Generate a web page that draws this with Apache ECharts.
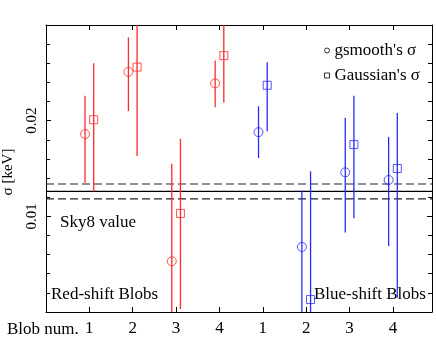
<!DOCTYPE html>
<html>
<head>
<meta charset="utf-8">
<script src="https://cdn.jsdelivr.net/npm/echarts@6/dist/echarts.min.js"></script>
<style>
  html, body { margin: 0; padding: 0; background: #fff; }
  #chart { width: 436px; height: 337px; }
</style>
</head>
<body>
<div id="chart"></div>
<script>
// blob labels along the bottom axis
const blobLabels = ["1", "2", "3", "4", "1", "2", "3", "4"];

// red-shift blobs: gsmooth (circle) and Gaussian (square) sigma, keV
const redGsmooth = [0.0186, 0.0251, 0.0053, 0.0239];
const redGsmoothLow = [0.0135, 0.0210, -0.0050, 0.0214];
const redGsmoothHigh = [0.0226, 0.0287, 0.0155, 0.0263];
const redGauss = [0.0201, 0.0256, 0.0103, 0.0268];
const redGaussLow = [0.0126, 0.0163, 0.0003, 0.0219];
const redGaussHigh = [0.0260, 0.0350, 0.0181, 0.0320];

// blue-shift blobs
const blueGsmooth = [0.0188, 0.0068, 0.0146, 0.0138];
const blueGsmoothLow = [0.0161, -0.0010, 0.0083, 0.0069];
const blueGsmoothHigh = [0.0215, 0.0127, 0.0203, 0.0183];
const blueGauss = [0.0237, 0.0013, 0.0175, 0.0150];
const blueGaussLow = [0.0189, -0.0120, 0.0098, 0.0015];
const blueGaussHigh = [0.0261, 0.0147, 0.0226, 0.0208];

// Sky8 reference value and its range
const skyValue = 0.0126;
const skyErr = 0.00078;

const RED = "#ff2a2a";
const BLUE = "#2a2aff";
const FONT = "Liberation Serif";
const XMAX = 8.9;
const SHIFT = 0.1;

// x position of blob i (0..3) in group g (0 red, 1 blue)
function xPos(g, i, side) {
  return g * 4 + i + 1 + side * SHIFT;
}

function points(g, vals, side) {
  return vals.map((v, i) => [xPos(g, i, side), v]);
}
function bars(g, lo, hi, side) {
  return lo.map((l, i) => [xPos(g, i, side), l, hi[i]]);
}

function errSeries(data, color) {
  return {
    type: "custom",
    clip: true,
    silent: true,
    encode: { x: 0, y: [1, 2] },
    data: data,
    renderItem: function (params, api) {
      const a = api.coord([api.value(0), api.value(1)]);
      const b = api.coord([api.value(0), api.value(2)]);
      return {
        type: "line",
        shape: { x1: a[0], y1: a[1], x2: b[0], y2: b[1] },
        style: { stroke: color, lineWidth: 1.3 }
      };
    },
    z: 2
  };
}

function markSeries(name, data, symbol, color) {
  return {
    name: name,
    type: "scatter",
    symbol: symbol,
    symbolSize: symbol === "circle" ? 9 : 8,
    data: data,
    itemStyle: { color: "transparent", borderColor: color, borderWidth: 1 },
    z: 3
  };
}

function hLine(v, dashed) {
  return {
    type: "line",
    data: [[0, v], [XMAX, v]],
    symbol: "none",
    silent: true,
    lineStyle: { color: dashed ? "#222" : "#000", width: 1.2, type: dashed ? [8, 4] : "solid" },
    z: 1
  };
}

const chart = echarts.init(document.getElementById("chart"));

const yTicks = {
  min: 0,
  max: 0.03,
  interval: 0.01,
  axisLine: { show: true, onZero: false, lineStyle: { color: "#000" } },
  axisTick: { show: true, inside: true, length: 5, lineStyle: { color: "#000" } },
  minorTick: { show: true, splitNumber: 5, length: 4, lineStyle: { color: "#000" } },
  splitLine: { show: false }
};

chart.setOption({
  animation: false,
  backgroundColor: "#fff",
  grid: { left: 46, right: 4, top: 25, bottom: 23 },
  xAxis: [
    {
      type: "value",
      min: 0,
      max: XMAX,
      interval: 1,
      axisLine: { onZero: false, lineStyle: { color: "#000" } },
      axisTick: { inside: true, length: 5, lineStyle: { color: "#000" } },
      splitLine: { show: false },
      axisLabel: {
        margin: 8,
        fontFamily: FONT,
        fontSize: 17,
        color: "#000",
        formatter: function (v) {
          return v >= 1 && v <= 8 ? blobLabels[v - 1] : "";
        }
      }
    },
    {
      type: "value",
      position: "top",
      min: 0,
      max: XMAX,
      interval: 1,
      axisLine: { show: true, onZero: false, lineStyle: { color: "#000" } },
      axisTick: { show: true, inside: true, length: 5, lineStyle: { color: "#000" } },
      axisLabel: { show: false },
      splitLine: { show: false }
    }
  ],
  yAxis: [
    Object.assign({}, yTicks, {
      axisLabel: {
        rotate: 90,
        margin: 6,
        fontFamily: FONT,
        fontSize: 15,
        color: "#000",
        formatter: function (v) {
          return v > 0.005 && v < 0.025 ? v.toFixed(2) : "";
        }
      }
    }),
    Object.assign({}, yTicks, {
      position: "right",
      axisLabel: { show: false }
    })
  ],
  legend: {
    orient: "vertical",
    left: 319,
    top: 37,
    itemGap: 8,
    itemWidth: 5,
    itemHeight: 5,
    textStyle: { fontFamily: FONT, fontSize: 17, color: "#000" },
    data: [
      { name: "gsmooth's σ", icon: "circle",
        itemStyle: { color: "transparent", borderColor: "#000", borderWidth: 1 } },
      { name: "Gaussian's σ", icon: "rect",
        itemStyle: { color: "transparent", borderColor: "#000", borderWidth: 1 } }
    ]
  },
  graphic: [
    { type: "text", x: 7, y: 330,
      style: { text: "Blob num.", font: "17px " + FONT, fill: "#000", textVerticalAlign: "middle" } },
    { type: "text", x: 8, y: 172, rotation: Math.PI / 2,
      style: { text: "σ [keV]", font: "15px " + FONT, fill: "#000",
               textAlign: "center", textVerticalAlign: "middle" } },
    { type: "text", x: 60, y: 223,
      style: { text: "Sky8 value", font: "17px " + FONT, fill: "#000", textVerticalAlign: "middle" } },
    { type: "text", x: 51, y: 295,
      style: { text: "Red-shift Blobs", font: "17px " + FONT, fill: "#000", textVerticalAlign: "middle" } },
    { type: "text", x: 314, y: 295,
      style: { text: "Blue-shift Blobs", font: "17px " + FONT, fill: "#000", textVerticalAlign: "middle" } }
  ],
  series: [
    hLine(skyValue, false),
    hLine(skyValue + skyErr, true),
    hLine(skyValue - skyErr, true),
    errSeries(bars(0, redGsmoothLow, redGsmoothHigh, -1), RED),
    errSeries(bars(0, redGaussLow, redGaussHigh, 1), RED),
    errSeries(bars(1, blueGsmoothLow, blueGsmoothHigh, -1), BLUE),
    errSeries(bars(1, blueGaussLow, blueGaussHigh, 1), BLUE),
    markSeries("gsmooth's σ", points(0, redGsmooth, -1), "circle", RED),
    markSeries("Gaussian's σ", points(0, redGauss, 1), "rect", RED),
    markSeries("gsmooth's σ", points(1, blueGsmooth, -1), "circle", BLUE),
    markSeries("Gaussian's σ", points(1, blueGauss, 1), "rect", BLUE)
  ]
});
</script>
</body>
</html>
